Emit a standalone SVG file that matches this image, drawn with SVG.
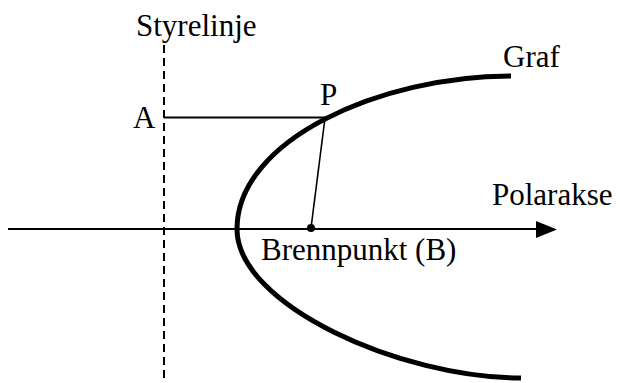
<svg xmlns="http://www.w3.org/2000/svg" width="620" height="383" viewBox="0 0 620 383">
<style>
text{font-family:"Liberation Serif","Times New Roman",serif;font-size:31px;fill:#000}
.ln{stroke:#000;fill:none}
</style>
<rect width="620" height="383" fill="#fff"/>
<g id="connectors">
<line class="ln" x1="164" y1="45" x2="164" y2="383" stroke-width="2" stroke-dasharray="8,5"/>
<line class="ln" x1="8" y1="229" x2="540" y2="229" stroke-width="2"/>
<polygon points="536,221 557,229.5 536,238" fill="#000"/>
<line class="ln" x1="164" y1="117.5" x2="326" y2="117.5" stroke-width="2"/>
<line class="ln" x1="325" y1="118" x2="311" y2="228" stroke-width="1.6"/>
</g>
<g id="graf">
<path class="ln" stroke-width="5" d="M511,76 C380,76 237,140 237,229 C237,305 400,378 521,378"/>
</g>
<g id="focus"><circle cx="311" cy="228" r="4" fill="#000"/></g>
<g id="labels">
<text x="136" y="36">Styrelinje</text>
<text x="503" y="67">Graf</text>
<text x="320" y="105">P</text>
<text x="133" y="128">A</text>
<text x="492" y="205">Polarakse</text>
<text x="261" y="260">Brennpunkt (B)</text>
</g>
</svg>
